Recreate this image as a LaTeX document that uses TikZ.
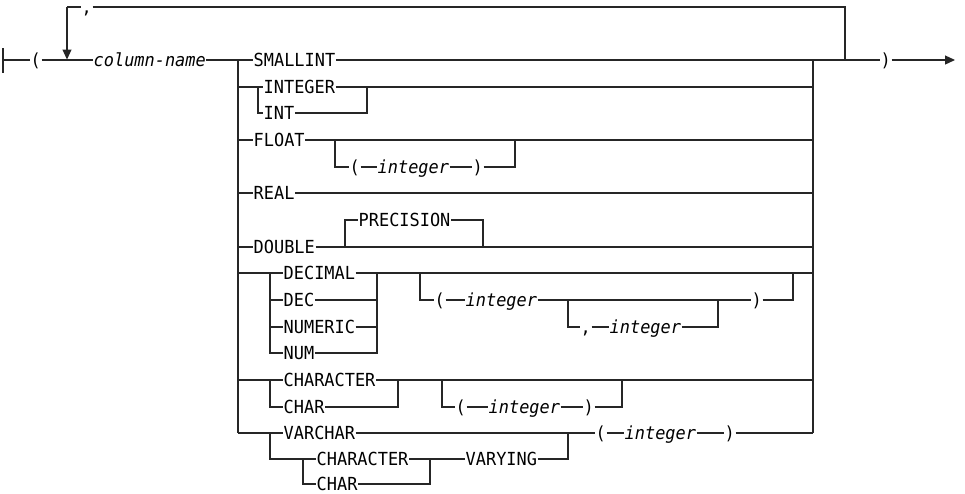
\documentclass[tikz,border=0pt]{standalone}
\usepackage{fontspec}
\setmonofont{DejaVu Sans Mono}[ItalicFont={DejaVu Sans Mono Oblique}, FakeStretch=0.94]
\usepackage{tikz}
\usetikzlibrary{arrows.meta, positioning}
\newcommand{\kwfont}{\fontsize{18}{21}\selectfont\ttfamily}
\newcommand{\varfont}{\fontsize{18}{21}\selectfont\ttfamily\itshape}
\tikzset{
  kw/.style={
    font=\kwfont, anchor=west,
    inner xsep=0.5pt, inner ysep=0pt,
    text height=13pt, text depth=0pt
  },
  var/.style={kw, font=\varfont},
  track/.style={line width=1.2pt, draw=black!85},
  tip/.style={track, -{Triangle[length=10pt, width=9pt]}}
}

\begin{document}
\begin{tikzpicture}[x=1pt, y=-1pt]
\useasboundingbox (0,0) rectangle (965,493);

% Entry and repeat loop
\coordinate (start) at (3,60);
\coordinate (starttop) at (3,48);
\coordinate (startbot) at (3,73);
\node[kw] (lp0) at (30,60) {(};
\node[var] (colname) at (93,60) {column-name};
\coordinate (ltop) at (67,7);
\coordinate (loopin) at (67,59.5);
\node[kw] (sep) at (81,7) {,};
\coordinate (rtop) at (845,7);
\coordinate (rjoin) at (845,60);
\draw[track] (starttop) -- (startbot);
\draw[track] (start) -- (lp0.west);
\draw[track] (lp0.east) -- (colname.west);
\draw[tip] (ltop) -- (loopin);
\draw[track] (ltop) -- (sep.west);
\draw[track] (sep.east) -- (rtop) -- (rjoin);

% Choice bars
\coordinate (lb0) at (238,60);
\coordinate (lb16) at (238,433);
\coordinate (rb0) at (813,60);
\coordinate (rb16) at (813,433);
\draw[track] (colname.east) -- (lb0) -- (lb16);
\draw[track] (rb0) -- (rb16);

% Exit
\node[kw] (rp0) at (880,60) {)};
\coordinate (finish) at (955,60);
\draw[track] (rb0) -- (rjoin) -- (rp0.west);
\draw[tip] (rp0.east) -- (finish);

% SMALLINT
\node[kw] (smallint) at (253,60) {SMALLINT};
\draw[track] (lb0) -- (smallint.west);
\draw[track] (smallint.east) -- (rb0);

% INTEGER / INT
\coordinate (lint) at (238,87);
\coordinate (jint) at (258,87);
\coordinate (jint2) at (258,113);
\coordinate (kint) at (367,87);
\coordinate (kint2) at (367,113);
\coordinate (rint) at (813,87);
\node[kw] (integer) at (263,87) {INTEGER};
\node[kw] (int) at (263,113) {INT};
\draw[track] (lint) -- (jint) -- (integer.west);
\draw[track] (jint) -- (jint2) -- (int.west);
\draw[track] (integer.east) -- (rint);
\draw[track] (int.east) -- (kint2) -- (kint);

% FLOAT
\coordinate (lfloat) at (238,140);
\coordinate (rfloat) at (813,140);
\coordinate (fa) at (335,140);
\coordinate (fb) at (335,167);
\coordinate (fc) at (515,167);
\coordinate (fd) at (515,140);
\node[kw] (float) at (253,140) {FLOAT};
\node[kw] (lpA) at (349,167) {(};
\node[var] (intA) at (377,167) {integer};
\node[kw] (rpA) at (472,167) {)};
\draw[track] (lfloat) -- (float.west);
\draw[track] (float.east) -- (rfloat);
\draw[track] (fa) -- (fb) -- (lpA.west);
\draw[track] (lpA.east) -- (intA.west);
\draw[track] (intA.east) -- (rpA.west);
\draw[track] (rpA.east) -- (fc) -- (fd);

% REAL
\coordinate (lreal) at (238,193);
\coordinate (rreal) at (813,193);
\node[kw] (real) at (253,193) {REAL};
\draw[track] (lreal) -- (real.west);
\draw[track] (real.east) -- (rreal);

% DOUBLE [PRECISION]
\coordinate (ldbl) at (238,247);
\coordinate (rdbl) at (813,247);
\coordinate (pa) at (345,247);
\coordinate (pb) at (345,220);
\coordinate (pc) at (483,220);
\coordinate (pd) at (483,247);
\node[kw] (double) at (253,247) {DOUBLE};
\node[kw] (precision) at (358,220) {PRECISION};
\draw[track] (ldbl) -- (double.west);
\draw[track] (double.east) -- (rdbl);
\draw[track] (pa) -- (pb) -- (precision.west);
\draw[track] (precision.east) -- (pc) -- (pd);

% DECIMAL / DEC / NUMERIC / NUM
\coordinate (ldec) at (238,273);
\coordinate (jdec) at (270,273);
\coordinate (jdecb) at (270,300);
\coordinate (jdecc) at (270,327);
\coordinate (jdecd) at (270,353);
\coordinate (kdec) at (377,273);
\coordinate (kdecb) at (377,300);
\coordinate (kdecc) at (377,327);
\coordinate (kdecd) at (377,353);
\coordinate (rdec) at (813,273);
\node[kw] (decimal) at (283,273) {DECIMAL};
\node[kw] (dec) at (283,300) {DEC};
\node[kw] (numeric) at (283,327) {NUMERIC};
\node[kw] (num) at (283,353) {NUM};
\draw[track] (ldec) -- (jdec) -- (decimal.west);
\draw[track] (jdec) -- (jdecd) -- (num.west);
\draw[track] (jdecb) -- (dec.west);
\draw[track] (jdecc) -- (numeric.west);
\draw[track] (decimal.east) -- (rdec);
\draw[track] (num.east) -- (kdecd) -- (kdec);
\draw[track] (dec.east) -- (kdecb);
\draw[track] (numeric.east) -- (kdecc);

% precision and scale
\coordinate (da) at (420,273);
\coordinate (db) at (420,300);
\coordinate (dc) at (568,300);
\coordinate (dd) at (568,327);
\coordinate (de) at (718,327);
\coordinate (df) at (718,300);
\coordinate (dg) at (793,300);
\coordinate (dh) at (793,273);
\node[kw] (lpB) at (434,300) {(};
\node[var] (intB) at (465,300) {integer};
\node[kw] (commaB) at (580,327) {,};
\node[var] (intC) at (609,327) {integer};
\node[kw] (rpB) at (751,300) {)};
\draw[track] (da) -- (db) -- (lpB.west);
\draw[track] (lpB.east) -- (intB.west);
\draw[track] (intB.east) -- (rpB.west);
\draw[track] (dc) -- (dd) -- (commaB.west);
\draw[track] (commaB.east) -- (intC.west);
\draw[track] (intC.east) -- (de) -- (df);
\draw[track] (rpB.east) -- (dg) -- (dh);

% CHARACTER / CHAR
\coordinate (lchr) at (238,380);
\coordinate (jchr) at (270,380);
\coordinate (jchr2) at (270,407);
\coordinate (kchr) at (398,380);
\coordinate (kchr2) at (398,407);
\coordinate (rchr) at (813,380);
\coordinate (ca) at (442,380);
\coordinate (cb) at (442,407);
\coordinate (cc) at (622,407);
\coordinate (cd) at (622,380);
\node[kw] (character) at (283,380) {CHARACTER};
\node[kw] (char) at (283,407) {CHAR};
\node[kw] (lpC) at (455,407) {(};
\node[var] (intD) at (488,407) {integer};
\node[kw] (rpD) at (583,407) {)};
\draw[track] (lchr) -- (jchr) -- (character.west);
\draw[track] (jchr) -- (jchr2) -- (char.west);
\draw[track] (character.east) -- (rchr);
\draw[track] (char.east) -- (kchr2) -- (kchr);
\draw[track] (ca) -- (cb) -- (lpC.west);
\draw[track] (lpC.east) -- (intD.west);
\draw[track] (intD.east) -- (rpD.west);
\draw[track] (rpD.east) -- (cc) -- (cd);

% VARCHAR / CHARACTER VARYING
\coordinate (jvar) at (270,433);
\coordinate (jvar2) at (270,459);
\coordinate (jv3) at (303,459);
\coordinate (jv4) at (303,484);
\coordinate (kv) at (430,459);
\coordinate (kv2) at (430,484);
\coordinate (va) at (568,459);
\coordinate (vb) at (568,433);
\node[kw] (varchar) at (283,433) {VARCHAR};
\node[kw] (character2) at (316,459) {CHARACTER};
\node[kw] (char2) at (316,484) {CHAR};
\node[kw] (varying) at (465,459) {VARYING};
\node[kw] (lpE) at (595,433) {(};
\node[var] (intE) at (624,433) {integer};
\node[kw] (rpE) at (724,433) {)};
\draw[track] (lb16) -- (varchar.west);
\draw[track] (jvar) -- (jvar2) -- (jv3) -- (character2.west);
\draw[track] (jv3) -- (jv4) -- (char2.west);
\draw[track] (char2.east) -- (kv2) -- (kv);
\draw[track] (character2.east) -- (varying.west);
\draw[track] (varying.east) -- (va) -- (vb);
\draw[track] (varchar.east) -- (lpE.west);
\draw[track] (lpE.east) -- (intE.west);
\draw[track] (intE.east) -- (rpE.west);
\draw[track] (rpE.east) -- (rb16);

\end{tikzpicture}
\end{document}
